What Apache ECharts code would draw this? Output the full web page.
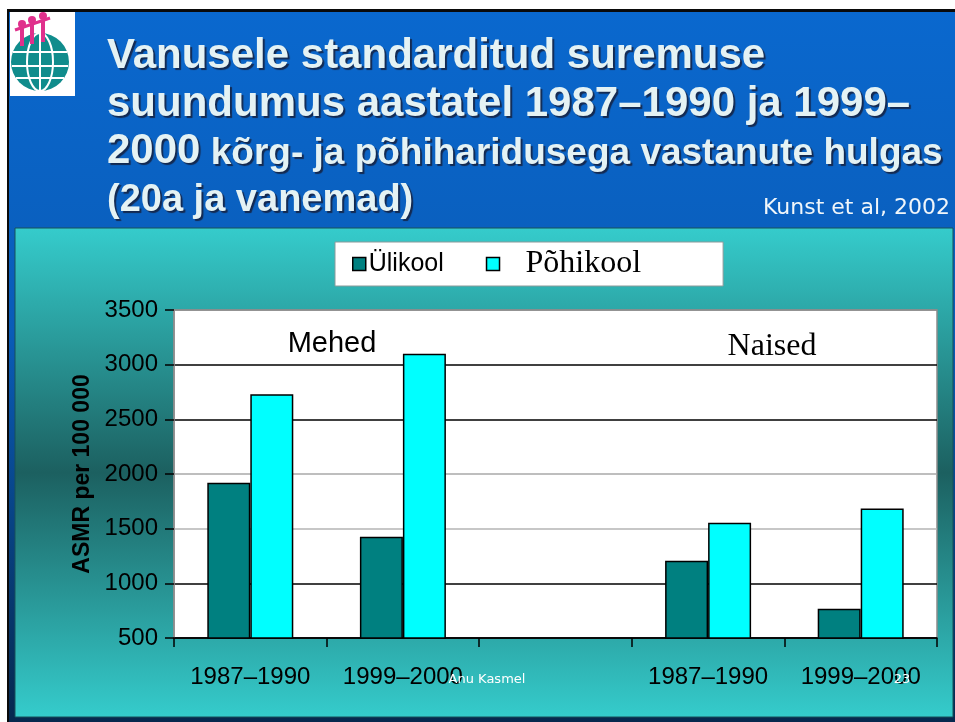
<!DOCTYPE html>
<html>
<head>
<meta charset="utf-8">
<title>Vanusele standarditud suremuse suundumus</title>
<script src="https://cdn.jsdelivr.net/npm/echarts@6/dist/echarts.min.js"></script>
<style>
  html, body { margin: 0; padding: 0; background: #fff; }
  #main { width: 955px; height: 722px; }
</style>
</head>
<body>
<div id="main"></div>
<script>
// andmed (loetud jooniselt)
var categories = ['1987\u20131990', '1999\u20132000', '', '1987\u20131990', '1999\u20132000'];
var seriesNames = ['Ülikool', 'Põhikool'];
var ylikoolData = [1920, 1427, null, 1207, 768];
var pohikoolData = [2730, 3100, null, 1555, 1685];
var yTicks = [500, 1000, 1500, 2000, 2500, 3000, 3500];

var myChart = echarts.init(document.getElementById('main'), null, { renderer: 'canvas' });

var titleColor = '#E4F2F4';
var titleShadow = { textShadowColor: 'rgba(20,30,60,0.85)', textShadowOffsetX: 2, textShadowOffsetY: 2, textShadowBlur: 1 };
var ext = echarts.util.extend;

// slaidi taust + pealkiri (graphic)
var graphics = [
    // must raam
    { type: 'rect', shape: { x: 7, y: 9, width: 948, height: 713 }, style: { fill: '#0a0a0a' }, z: -10 },
    // sinine taust
    {
        type: 'rect', shape: { x: 9, y: 12, width: 946, height: 710 }, z: -9,
        style: {
            fill: new echarts.graphic.LinearGradient(0, 0, 0, 1, [
                { offset: 0, color: '#0A68CE' },
                { offset: 0.45, color: '#0A5CB8' },
                { offset: 1, color: '#06284E' }
            ])
        }
    },
    // türkiis paneel
    {
        type: 'rect', shape: { x: 15, y: 228, width: 938, height: 489 }, z: -8,
        style: {
            fill: new echarts.graphic.LinearGradient(0, 0, 0, 1, [
                { offset: 0, color: '#35CCCC' },
                { offset: 0.5, color: '#1C6060' },
                { offset: 1, color: '#35CCCC' }
            ]),
            stroke: '#17505A', lineWidth: 1
        }
    },
    // logo
    { type: 'rect', shape: { x: 10, y: 12, width: 65, height: 84 }, style: { fill: '#fff' }, z: -7 },
    { type: 'circle', shape: { cx: 40, cy: 62, r: 29 }, style: { fill: '#108C8C' }, z: -6 },
    { type: 'ellipse', shape: { cx: 40, cy: 62, rx: 13, ry: 29 }, style: { fill: 'none', stroke: '#fff', lineWidth: 2 }, z: -5 },
    { type: 'line', shape: { x1: 40, y1: 33, x2: 40, y2: 91 }, style: { stroke: '#fff', lineWidth: 2 }, z: -5 },
    { type: 'line', shape: { x1: 13, y1: 52, x2: 67, y2: 52 }, style: { stroke: '#fff', lineWidth: 2 }, z: -5 },
    { type: 'line', shape: { x1: 12, y1: 66, x2: 68, y2: 66 }, style: { stroke: '#fff', lineWidth: 2 }, z: -5 },
    { type: 'line', shape: { x1: 16, y1: 78, x2: 64, y2: 78 }, style: { stroke: '#fff', lineWidth: 2 }, z: -5 },
    { type: 'circle', shape: { cx: 22, cy: 24, r: 4 }, style: { fill: '#E0308C' }, z: -4 },
    { type: 'circle', shape: { cx: 32, cy: 20, r: 4 }, style: { fill: '#E0308C' }, z: -4 },
    { type: 'circle', shape: { cx: 43, cy: 16, r: 4 }, style: { fill: '#E0308C' }, z: -4 },
    { type: 'line', shape: { x1: 22, y1: 28, x2: 22, y2: 46 }, style: { stroke: '#E0308C', lineWidth: 4 }, z: -4 },
    { type: 'line', shape: { x1: 32, y1: 24, x2: 32, y2: 44 }, style: { stroke: '#E0308C', lineWidth: 4 }, z: -4 },
    { type: 'line', shape: { x1: 43, y1: 20, x2: 43, y2: 42 }, style: { stroke: '#E0308C', lineWidth: 4 }, z: -4 },
    { type: 'line', shape: { x1: 15, y1: 30, x2: 50, y2: 18 }, style: { stroke: '#E0308C', lineWidth: 3 }, z: -4 },

    // pealkiri
    {
        type: 'text', x: 107, y: 56, z: 10,
        style: ext({ text: 'Vanusele standarditud suremuse', fill: titleColor, textVerticalAlign: 'middle',
            font: 'bold 42px "Liberation Sans", Arial, sans-serif' }, titleShadow)
    },
    {
        type: 'text', x: 107, y: 104, z: 10,
        style: ext({ text: 'suundumus aastatel 1987\u20131990 ja 1999\u2013', fill: titleColor, textVerticalAlign: 'middle',
            font: 'bold 42px "Liberation Sans", Arial, sans-serif' }, titleShadow)
    },
    {
        type: 'text', x: 107, y: 172, z: 10,
        style: ext({
            text: '{a|2000}{b| kõrg- ja põhiharidusega vastanute hulgas}',
            fill: titleColor,
            textVerticalAlign: 'bottom',
            rich: {
                a: ext({ fontFamily: '"Liberation Sans", Arial, sans-serif', fontWeight: 'bold', fontSize: 42, fill: titleColor, verticalAlign: 'bottom' }, titleShadow),
                b: ext({ fontFamily: '"Liberation Sans", Arial, sans-serif', fontWeight: 'bold', fontSize: 37, fill: titleColor, verticalAlign: 'bottom' }, titleShadow)
            }
        }, titleShadow)
    },
    {
        type: 'text', x: 107, y: 201, z: 10,
        style: ext({ text: '(20a ja vanemad)', fill: titleColor, textVerticalAlign: 'middle',
            font: 'bold 38px "Liberation Sans", Arial, sans-serif' }, titleShadow)
    },
    {
        type: 'text', x: 950, y: 208, z: 10,
        style: { text: 'Kunst et al, 2002', fill: '#F0F6FA', font: '22px "DejaVu Sans", Verdana, sans-serif', textAlign: 'right', textVerticalAlign: 'middle' }
    },
    // joonise sildid
    {
        type: 'text', x: 332, y: 344, z: 20,
        style: { text: 'Mehed', fill: '#000', font: '29px "Liberation Sans", Arial, sans-serif', textAlign: 'center', textVerticalAlign: 'middle' }
    },
    {
        type: 'text', x: 772, y: 347, z: 20,
        style: { text: 'Naised', fill: '#000', font: '32px "Liberation Serif", "Times New Roman", serif', textAlign: 'center', textVerticalAlign: 'middle' }
    },
    // jalus
    {
        type: 'text', x: 487, y: 680, z: 30,
        style: { text: 'Anu Kasmel', fill: '#fff', font: '13px "DejaVu Sans", Verdana, sans-serif', textAlign: 'center', textVerticalAlign: 'middle' }
    },
    {
        type: 'text', x: 902, y: 680, z: 30,
        style: { text: '23', fill: '#fff', font: '13px "DejaVu Sans", Verdana, sans-serif', textAlign: 'center', textVerticalAlign: 'middle' }
    }
];

var option = {
    backgroundColor: '#fff',
    animation: false,
    graphic: graphics,
    legend: {
        data: seriesNames,
        left: 335,
        top: 242,
        padding: [6, 82, 6, 17],
        itemGap: 42,
        itemWidth: 13,
        itemHeight: 13,
        icon: 'rect',
        backgroundColor: '#fff',
        borderColor: '#8a9a9a',
        borderWidth: 1,
        itemStyle: { borderColor: '#000', borderWidth: 1.5 },
        formatter: function (name) {
            return name === 'Põhikool' ? '{p|' + name + '}' : '{u|' + name + '}';
        },
        textStyle: {
            color: '#000',
            rich: {
                u: { fontFamily: '"Liberation Sans", Arial, sans-serif', fontSize: 25, color: '#000', padding: [0, 0, 0, -2] },
                p: { fontFamily: '"Liberation Serif", "Times New Roman", serif', fontSize: 32, color: '#000', padding: [0, 0, 0, 21], lineHeight: 34 }
            }
        }
    },
    grid: {
        left: 174,
        right: 18,
        top: 310,
        bottom: 84,
        show: true,
        backgroundColor: '#fff',
        borderColor: '#8c8c8c',
        borderWidth: 1.5
    },
    xAxis: {
        type: 'category',
        data: categories,
        axisLine: { lineStyle: { color: '#000', width: 1.5 } },
        axisTick: { show: true, length: 9, lineStyle: { color: '#000', width: 1.5 } },
        axisLabel: {
            interval: 0,
            color: '#000',
            fontFamily: '"Liberation Sans", Arial, sans-serif',
            fontSize: 24,
            margin: 27
        }
    },
    yAxis: {
        type: 'value',
        min: yTicks[0],
        max: yTicks[yTicks.length - 1],
        interval: 500,
        name: 'ASMR per 100 000',
        nameLocation: 'middle',
        nameGap: 77,
        nameTextStyle: {
            color: '#000',
            fontFamily: '"Liberation Sans", Arial, sans-serif',
            fontWeight: 'bold',
            fontSize: 23
        },
        axisLine: { show: true, lineStyle: { color: '#8c8c8c', width: 1.5 } },
        axisTick: { show: true, length: 9, lineStyle: { color: '#000', width: 1.5 } },
        axisLabel: {
            color: '#000',
            fontFamily: '"Liberation Sans", Arial, sans-serif',
            fontSize: 24,
            margin: 16,
            formatter: function (v) { return String(v); }
        },
        splitLine: {
            show: true,
            lineStyle: { color: ['#000', '#000', '#b4b4b4', '#a8a8a8', '#000', '#000', '#8c8c8c'], width: 1.5 }
        }
    },
    series: [
        {
            name: seriesNames[0],
            type: 'bar',
            data: ylikoolData,
            barWidth: 43,
            barGap: '0%',
            itemStyle: { color: '#008080', borderColor: '#000', borderWidth: 1.5 }
        },
        {
            name: seriesNames[1],
            type: 'bar',
            data: pohikoolData,
            barWidth: 43,
            barGap: '0%',
            itemStyle: { color: '#00FFFF', borderColor: '#000', borderWidth: 1.5 }
        }
    ]
};

myChart.setOption(option);
</script>
</body>
</html>
